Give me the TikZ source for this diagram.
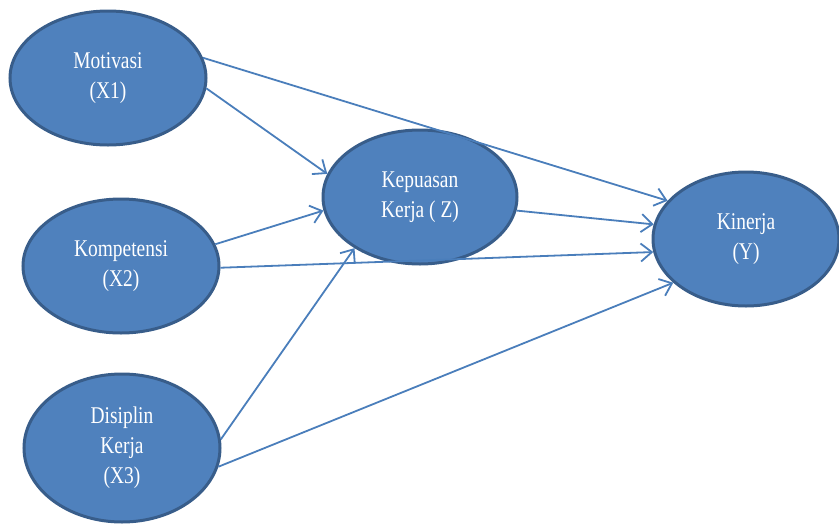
\documentclass[tikz,border=0pt]{standalone}
\usepackage{fontspec}
\setmainfont{Liberation Serif}[FakeStretch=0.81]
\usetikzlibrary{shapes.geometric,arrows.meta}
\definecolor{fillblue}{HTML}{4F81BD}
\definecolor{edgeblue}{HTML}{385D8A}
\definecolor{arrowblue}{HTML}{4A7EBB}
\begin{document}
\begin{tikzpicture}[x=1pt,y=-1pt,
  var/.style={ellipse, draw=edgeblue, fill=fillblue, line width=3pt, inner sep=0pt,
    text=white, align=center, font=\fontsize{24}{30}\selectfont},
  link/.style={draw=arrowblue, line width=1.8pt, -{Straight Barb[length=11pt,width=18pt]}}]
\useasboundingbox (0,0) rectangle (839,523);
\node[var, minimum width=196pt, minimum height=134pt] (m) at (108,78) {Motivasi\\(X1)};
\node[var, minimum width=196pt, minimum height=134pt] (c) at (121,266) {Kompetensi\\(X2)};
\node[var, minimum width=196pt, minimum height=148pt] (d) at (122,448) {Disiplin\\Kerja\\(X3)};
\node[var, minimum width=194pt, minimum height=134pt] (k) at (420,197) {Kepuasan\\Kerja ( Z)};
\node[var, minimum width=186pt, minimum height=134pt] (y) at (746,239) {Kinerja\\(Y)};
\draw[link] (m.12) -- (y.154);
\draw[link] (m.-6) -- (k.166);
\draw[link] (c.13) -- (k.188);
\draw[link] (c.-1) -- (y.188);
\draw[link] (k.-8) -- (y.171);
\draw[link] (d.5) -- (k.218);
\draw[link] (d.-11) -- (y.211);
\end{tikzpicture}
\end{document}
